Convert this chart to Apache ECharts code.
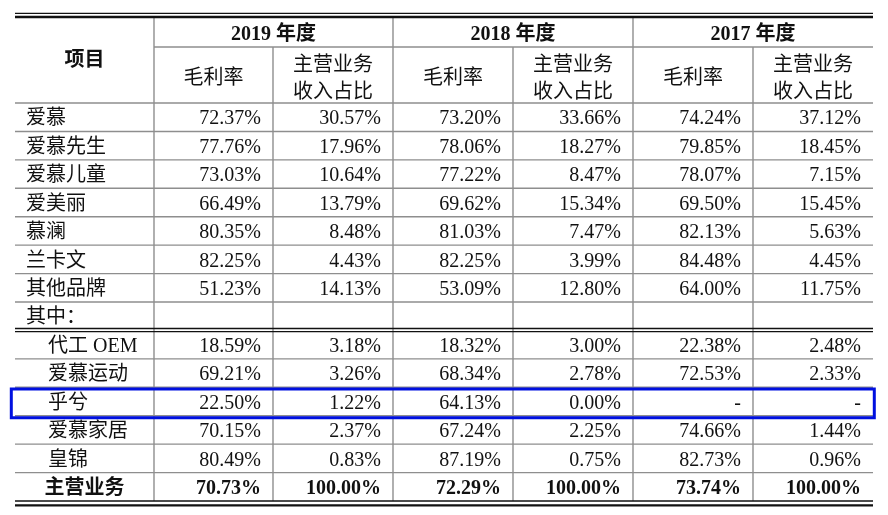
<!DOCTYPE html>
<html>
<head>
<meta charset="utf-8">
<script src="https://cdn.jsdelivr.net/npm/echarts@6/dist/echarts.min.js"></script>
<style>
html, body { margin: 0; padding: 0; background: #fff; }
#table { width: 888px; height: 515px; }
</style>
</head>
<body>
<div id="table"></div>
<script>
// 表头
const firstHeader = '项目'
const years = ['2019 年度', '2018 年度', '2017 年度']
const subHeaders = ['毛利率', '主营业务\n收入占比']

// 行项目
const items = ['爱慕', '爱慕先生', '爱慕儿童', '爱美丽', '慕澜', '兰卡文', '其他品牌', '其中：',
  '代工 OEM', '爱慕运动', '乎兮', '爱慕家居', '皇锦', '主营业务']
const subItems = ['代工 OEM', '爱慕运动', '乎兮', '爱慕家居', '皇锦']
const totalItem = '主营业务'
const markedItem = '乎兮'

// 毛利率 / 主营业务收入占比 (%)，null 为空格，'-' 为无数据
const margin2019 = [72.37, 77.76, 73.03, 66.49, 80.35, 82.25, 51.23, null, 18.59, 69.21, 22.50, 70.15, 80.49, 70.73]
const share2019 = [30.57, 17.96, 10.64, 13.79, 8.48, 4.43, 14.13, null, 3.18, 3.26, 1.22, 2.37, 0.83, 100.00]
const margin2018 = [73.20, 78.06, 77.22, 69.62, 81.03, 82.25, 53.09, null, 18.32, 68.34, 64.13, 67.24, 87.19, 72.29]
const share2018 = [33.66, 18.27, 8.47, 15.34, 7.47, 3.99, 12.80, null, 3.00, 2.78, 0.00, 2.25, 0.75, 100.00]
const margin2017 = [74.24, 79.85, 78.07, 69.50, 82.13, 84.48, 64.00, null, 22.38, 72.53, '-', 74.66, 82.73, 73.74]
const share2017 = [37.12, 18.45, 7.15, 15.45, 5.63, 4.45, 11.75, null, 2.48, 2.33, '-', 1.44, 0.96, 100.00]

const columns = [margin2019, share2019, margin2018, share2018, margin2017, share2017]

// 版式
const colWidths = [139, 119, 120, 120, 120, 120, 120]
const headHeights = [30, 56]
const rowHeight = 28.43
const FONT = '"Liberation Serif", "Noto Sans CJK SC", serif'
const GREY = '#8e8e8e'
const DARK = '#111'

const colEdges = [0]
colWidths.forEach(w => colEdges.push(colEdges[colEdges.length - 1] + w))
const rowEdges = [0, headHeights[0], headHeights[0] + headHeights[1]]
items.forEach(() => rowEdges.push(rowEdges[rowEdges.length - 1] + rowHeight))
const tableW = colEdges[colEdges.length - 1]
const tableH = rowEdges[rowEdges.length - 1]

function fmt(v) {
  if (v === null) return ''
  if (typeof v === 'string') return v
  return v.toFixed(2) + '%'
}

// 单元格
const cells = []
cells.push({ c0: 0, c1: 1, r0: 0, r1: 2, text: firstHeader, align: 'center', bold: true, dy: 1 })
years.forEach((y, k) => {
  cells.push({ c0: 1 + 2 * k, c1: 3 + 2 * k, r0: 0, r1: 1, text: y, align: 'center', bold: true, dy: 3 })
  subHeaders.forEach((s, j) => {
    cells.push({ c0: 1 + 2 * k + j, c1: 2 + 2 * k + j, r0: 1, r1: 2, text: s, align: 'center', dy: 4 })
  })
})
items.forEach((name, i) => {
  const isTotal = name === totalItem
  const isSub = subItems.includes(name)
  cells.push({
    c0: 0, c1: 1, r0: 2 + i, r1: 3 + i, text: name,
    align: isTotal ? 'center' : 'left', pad: isSub ? 33 : 11, bold: isTotal, dy: 2
  })
  columns.forEach((col, j) => {
    cells.push({ c0: 1 + j, c1: 2 + j, r0: 2 + i, r1: 3 + i, text: fmt(col[i]), align: 'right', pad: 12, bold: isTotal, dy: 2 })
  })
})

// 表格线
const rules = []
for (let c = 1; c < colEdges.length - 1; c++) {
  const y0 = c % 2 === 0 ? rowEdges[1] : rowEdges[0]
  rules.push({ x0: colEdges[c], y0: y0, x1: colEdges[c], y1: tableH, color: GREY, w: 1.4 })
}
rules.push({ x0: colEdges[1], y0: rowEdges[1], x1: tableW, y1: rowEdges[1], color: GREY, w: 1.4 })
const splitRow = items.indexOf('其中：')
for (let r = 2; r < rowEdges.length - 1; r++) {
  if (r === 3 + splitRow) {
    rules.push({ x0: 0, y0: rowEdges[r] - 2, x1: tableW, y1: rowEdges[r] - 2, color: DARK, w: 1.4 })
    rules.push({ x0: 0, y0: rowEdges[r] + 1.2, x1: tableW, y1: rowEdges[r] + 1.2, color: DARK, w: 1.2 })
  } else {
    rules.push({ x0: 0, y0: rowEdges[r], x1: tableW, y1: rowEdges[r], color: GREY, w: 1.4 })
  }
}
rules.push({ x0: 0, y0: -3.6, x1: tableW, y1: -3.6, color: DARK, w: 1.3 })
rules.push({ x0: 0, y0: 0, x1: tableW, y1: 0, color: DARK, w: 2.4 })
rules.push({ x0: 0, y0: tableH, x1: tableW, y1: tableH, color: DARK, w: 1.3 })
rules.push({ x0: 0, y0: tableH + 4.4, x1: tableW, y1: tableH + 4.4, color: DARK, w: 2.4 })

const markRow = items.indexOf(markedItem)

const chart = echarts.init(document.getElementById('table'))
chart.setOption({
  animation: false,
  grid: { left: 15, top: 17, width: tableW, height: tableH },
  xAxis: { type: 'value', min: 0, max: tableW, show: false },
  yAxis: { type: 'value', min: 0, max: tableH, inverse: true, show: false },
  series: [
    {
      type: 'custom',
      name: 'rules',
      silent: true,
      data: rules.map(r => [r.x0, r.y0, r.x1, r.y1]),
      renderItem(params, api) {
        const r = rules[params.dataIndex]
        const p0 = api.coord([api.value(0), api.value(1)])
        const p1 = api.coord([api.value(2), api.value(3)])
        return {
          type: 'line',
          shape: { x1: p0[0], y1: p0[1], x2: p1[0], y2: p1[1] },
          style: { stroke: r.color, lineWidth: r.w }
        }
      }
    },
    {
      type: 'custom',
      name: 'cells',
      silent: true,
      data: cells.map(c => [colEdges[c.c0], rowEdges[c.r0], colEdges[c.c1], rowEdges[c.r1]]),
      renderItem(params, api) {
        const cell = cells[params.dataIndex]
        const tl = api.coord([api.value(0), api.value(1)])
        const br = api.coord([api.value(2), api.value(3)])
        let x = (tl[0] + br[0]) / 2
        if (cell.align === 'left') x = tl[0] + cell.pad
        if (cell.align === 'right') x = br[0] - cell.pad
        return {
          type: 'text',
          style: {
            text: cell.text,
            x: x,
            y: (tl[1] + br[1]) / 2 + cell.dy,
            align: cell.align,
            verticalAlign: 'middle',
            font: (cell.bold ? 'bold ' : '') + '20px ' + FONT,
            lineHeight: 27,
            fill: '#111'
          }
        }
      }
    },
    {
      type: 'custom',
      name: 'mark',
      silent: true,
      data: [[0, rowEdges[2 + markRow], tableW, rowEdges[3 + markRow]]],
      renderItem(params, api) {
        const tl = api.coord([api.value(0), api.value(1)])
        const br = api.coord([api.value(2), api.value(3)])
        return {
          type: 'rect',
          shape: { x: tl[0] - 3.7, y: tl[1] + 1.7, width: br[0] - tl[0] + 5, height: br[1] - tl[1] + 0.4 },
          style: { fill: 'none', stroke: '#0010e0', lineWidth: 3 }
        }
      }
    }
  ]
})
</script>
</body>
</html>
